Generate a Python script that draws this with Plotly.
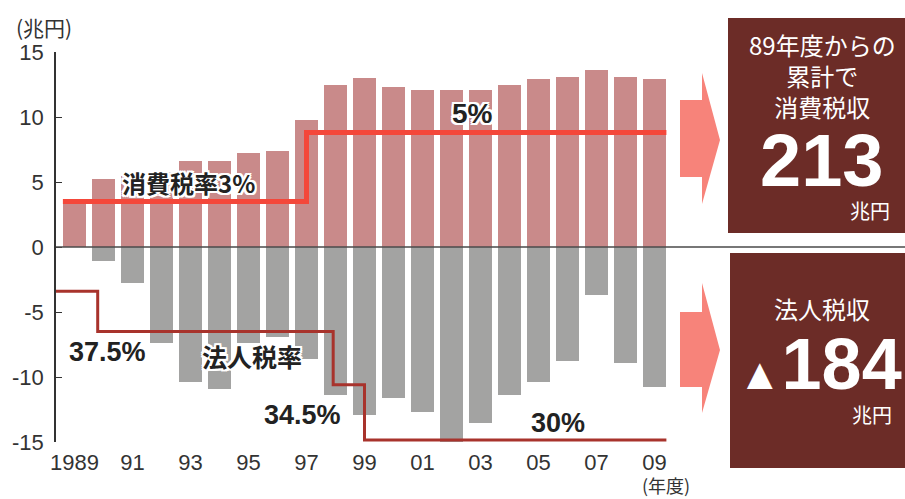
import plotly.graph_objects as go

# Fiscal years and revenue changes (trillion yen)
years = list(range(1989, 2010))
consumption_tax = [3.3, 5.2, 5.5, 5.8, 6.6, 6.6, 7.2, 7.4, 9.8, 12.5, 13.0,
                   12.3, 12.1, 12.1, 12.1, 12.5, 12.9, 13.1, 13.6, 13.1, 12.9]
corporate_tax = [0, -1.1, -2.8, -7.4, -10.4, -10.9, -7.4, -6.9, -8.6, -11.4, -12.9,
                 -11.6, -12.7, -15.0, -13.5, -11.4, -10.4, -8.8, -3.7, -8.9, -10.8]

# Tax-rate step lines (drawn at illustrative levels on the chart scale)
cons_rate_x = [1988.6, 1997.0, 2009.41]
cons_rate_level = [3.5, 8.8, 8.8]
corp_rate_x = [1988.36, 1989.8, 1997.92, 1999.0, 2009.41]
corp_rate_level = [-3.4, -6.5, -10.6, -14.85, -14.85]

cons_rate_labels = ["消費税率3%", "5%"]
corp_rate_labels = ["37.5%", "法人税率", "34.5%", "30%"]

tick_years = list(range(1989, 2010, 2))
tick_text = ["1989"] + [str(y)[-2:] for y in tick_years[1:]]
y_ticks = [-15, -10, -5, 0, 5, 10, 15]
y_tick_text = [str(v) for v in y_ticks]

totals = ["213", "184"]

W, H = 905, 499
L, T, B = 56, 52, 57

PINK = "#c98a8a"
GRAY = "#a3a3a2"
RED = "#f4473a"
DARK_RED = "#a8332c"
BOX = "#6c2c27"
ARROW = "#f7837a"
JP = "Noto Sans CJK JP"
NUM = "Liberation Sans"
HALO = ("2px 0 0 #fff, -2px 0 0 #fff, 0 2px 0 #fff, 0 -2px 0 #fff, "
        "2px 2px 0 #fff, -2px -2px 0 #fff, 2px -2px 0 #fff, -2px 2px 0 #fff")


def px(x):
    return (x - L) / (W - L)


def py(y):
    return (H - B - y) / (H - T - B)


fig = go.Figure()
fig.add_bar(x=years, y=consumption_tax, marker_color=PINK, width=0.81,
            marker_line_width=0, showlegend=False)
fig.add_bar(x=years, y=corporate_tax, marker_color=GRAY, width=0.81,
            marker_line_width=0, showlegend=False)
fig.add_scatter(x=cons_rate_x, y=cons_rate_level, mode="lines",
                line=dict(color=RED, width=5, shape="hv"), showlegend=False)
fig.add_scatter(x=corp_rate_x, y=corp_rate_level, mode="lines",
                line=dict(color=DARK_RED, width=3, shape="hv"), showlegend=False)

shapes = [
    # zero line running across the full width
    dict(type="line", xref="paper", yref="y", x0=0, x1=1, y0=0, y1=0,
         line=dict(color="#4a4a4a", width=1.5), layer="above"),
    # summary boxes
    dict(type="rect", xref="paper", yref="paper", x0=px(728), x1=px(906),
         y0=py(233), y1=py(18), fillcolor=BOX, line_width=0),
    dict(type="rect", xref="paper", yref="paper", x0=px(730), x1=px(906),
         y0=py(468), y1=py(253), fillcolor=BOX, line_width=0),
]


def arrow(top_body, bot_body, top_head, bot_head, tip_y):
    pts = [(680, top_body), (702, top_body), (702, top_head), (720, tip_y),
           (702, bot_head), (702, bot_body), (680, bot_body)]
    path = "M " + " L ".join(f"{px(x):.5f},{py(y):.5f}" for x, y in pts) + " Z"
    return dict(type="path", xref="paper", yref="paper", path=path,
                fillcolor=ARROW, line_width=0)


shapes.append(arrow(100, 177, 73, 204, 140))
shapes.append(arrow(312, 387, 283, 413, 350))

annotations = []


def label(text, x, y, size, color="#222", family=JP, weight="normal", shadow="none"):
    annotations.append(dict(
        text=text, xref="paper", yref="paper", x=px(x), y=py(y),
        xanchor="center", yanchor="middle", showarrow=False,
        font=dict(family=family, size=size, color=color, weight=weight, shadow=shadow)))


label("(兆円)", 44, 27, 21, color="#333")
label("(年度)", 666, 485, 18, color="#333")

label(cons_rate_labels[0], 188, 182, 24, weight="bold", shadow=HALO)
label(cons_rate_labels[1], 472, 113, 28, family=NUM, weight="bold", shadow=HALO)
label(corp_rate_labels[0], 107, 352, 27, family=NUM, weight="bold", shadow=HALO)
label(corp_rate_labels[1], 252, 356, 25, weight="bold", shadow=HALO)
label(corp_rate_labels[2], 302, 415, 27, family=NUM, weight="bold", shadow=HALO)
label(corp_rate_labels[3], 558, 423, 27, family=NUM, weight="bold", shadow=HALO)

label("89年度からの<br>累計で<br>消費税収", 822, 75, 24, color="white")
label(totals[0], 821, 160, 74, color="white", family=NUM, weight="bold")
label("兆円", 870, 210, 20, color="white")
label("法人税収", 822, 308, 24, color="white")
label("<span style='font-size:44px'>▲</span>" + totals[1], 820, 364, 72,
      color="white", family=NUM, weight="bold")
label("兆円", 872, 414, 20, color="white")

fig.update_layout(
    width=W, height=H,
    margin=dict(l=L, r=0, t=T, b=B),
    paper_bgcolor="white", plot_bgcolor="white",
    barmode="relative", bargap=0,
    shapes=shapes, annotations=annotations,
    xaxis=dict(range=[1988 + 1 - 18.5 / 29, 1989 + (W - 74.5) / 29],
               tickvals=tick_years, ticktext=tick_text, showgrid=False,
               zeroline=False, showline=False, ticks="",
               tickfont=dict(family=NUM, size=22, color="#333"),
               ticklabelstandoff=5),
    yaxis=dict(range=[-15, 15], tickvals=y_ticks, ticktext=y_tick_text,
               showgrid=False, zeroline=False,
               showline=True, linecolor="#333", linewidth=1.5,
               ticks="inside", ticklen=6, tickcolor="#333",
               tickfont=dict(family=NUM, size=22, color="#333"),
               ticklabelstandoff=6),
)

fig.write_html("out.html")
